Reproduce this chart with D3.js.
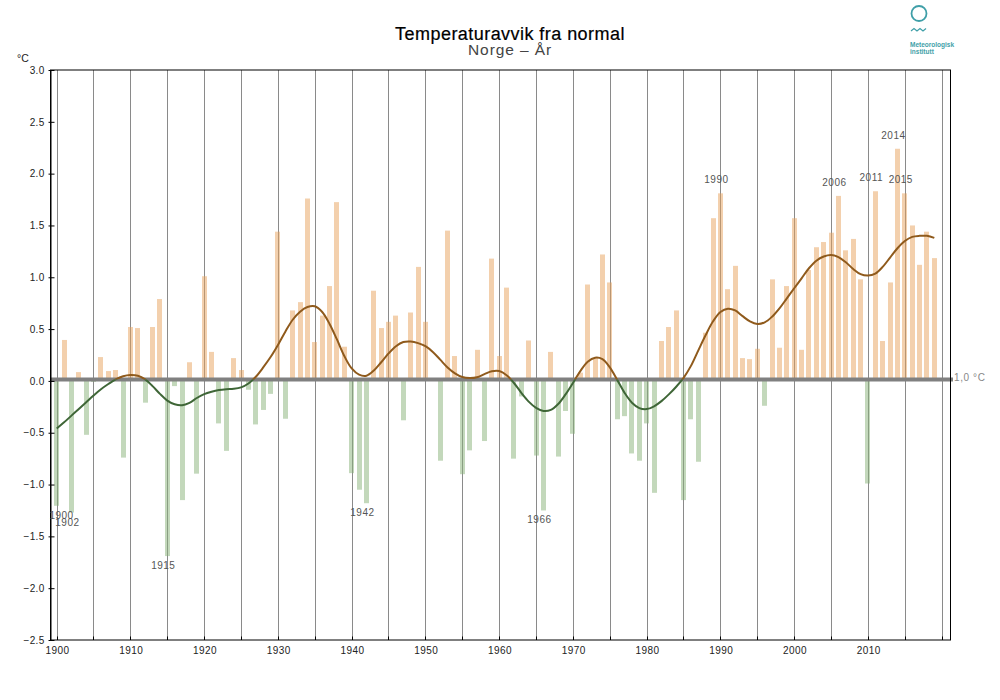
<!DOCTYPE html>
<html><head><meta charset="utf-8">
<script src="https://cdn.jsdelivr.net/npm/d3@7"></script>
<style>
html,body{margin:0;padding:0;background:#fff}
svg{display:block}
text{font-family:"Liberation Sans",sans-serif}
</style></head><body><svg id="c" width="1000" height="700"></svg>
<script>
const firstYear = 1900;
const annualValues = [
-1.205,0.395,-1.27,0.085,-0.52,-0.01,0.23,0.095,0.105,-0.74,
0.52,0.51,-0.21,0.52,0.79,-1.69,-0.05,-1.15,0.18,-0.895,
1.01,0.28,-0.41,-0.675,0.22,0.105,-0.085,-0.42,-0.28,-0.125,
1.44,-0.365,0.68,0.76,1.76,0.375,0.63,0.915,1.725,0.33,
-0.89,-1.05,-1.18,0.87,0.51,0.57,0.63,-0.38,0.66,1.10,
0.57,0.0,-0.77,1.45,0.24,-0.90,-0.67,0.30,-0.58,1.18,
0.24,0.90,-0.75,-0.15,0.39,-0.72,-1.25,0.28,-0.73,-0.29,
-0.51,0.08,0.93,0.22,1.22,0.95,-0.37,-0.34,-0.70,-0.77,
-0.41,-1.08,0.385,0.52,0.68,-1.15,-0.37,-0.78,0.465,1.57,
1.81,0.885,1.11,0.22,0.21,0.31,-0.24,0.98,0.32,0.915,
1.57,0.30,1.07,1.29,1.34,1.43,1.785,1.26,1.37,0.98,
-0.99,1.83,0.385,0.95,2.24,1.81,1.50,1.12,1.44,1.185];
const smoothValues = [
-0.46,-0.40,-0.335,-0.27,-0.205,-0.14,-0.08,-0.03,0.015,0.045,
0.057,0.05,0.015,-0.05,-0.125,-0.19,-0.226,-0.235,-0.212,-0.165,
-0.127,-0.104,-0.088,-0.08,-0.076,-0.062,-0.025,0.04,0.13,0.23,
0.347,0.475,0.59,0.668,0.713,0.72,0.665,0.55,0.40,0.24,
0.12,0.06,0.05,0.10,0.18,0.265,0.335,0.375,0.38,0.365,
0.335,0.28,0.205,0.13,0.073,0.037,0.027,0.035,0.065,0.093,
0.095,0.055,-0.02,-0.115,-0.20,-0.26,-0.29,-0.28,-0.223,-0.13,
-0.02,0.095,0.185,0.224,0.21,0.13,0.01,-0.115,-0.21,-0.262,
-0.272,-0.245,-0.195,-0.13,-0.056,0.03,0.145,0.295,0.443,0.575,
0.665,0.697,0.68,0.625,0.575,0.55,0.565,0.62,0.70,0.797,
0.894,0.99,1.087,1.16,1.20,1.215,1.195,1.145,1.08,1.03,
1.016,1.035,1.10,1.19,1.28,1.35,1.39,1.40,1.40,1.38];
const markedYears = [1900,1902,1915,1942,1966,1990,2006,2011,2014,2015];
const yTicks = [3,2.5,2,1.5,1,0.5,0,-0.5,-1,-1.5,-2,-2.5];
const xGridYears = d3.range(1900,2021,5);
const xLabelYears = d3.range(1900,2011,10);
const years = annualValues.map((_,i)=>firstYear+i);
const titleText = "Temperaturavvik fra normal";
const subtitleText = "Norge – År";
const unitText = "°C";
const normalText = "1,0 °C";

const L=50.5,R=950.5,T=70,B=640;
const x=d3.scaleLinear().domain([1900,2020]).range([57,942]);
const y=d3.scaleLinear().domain([-2.5,3]).range([B,T]);
const cx=yr=>x(yr)-0.3;
const gridX=yr=>Math.floor(x(yr))+0.5;
const svg=d3.select("#c");

// grid
svg.append("g").selectAll("line").data(xGridYears).join("line")
 .attr("x1",gridX).attr("x2",gridX).attr("y1",T).attr("y2",B)
 .attr("stroke","#8a8a8a").attr("stroke-width",1);

// bars
svg.append("g").selectAll("rect").data(years).join("rect")
 .attr("x",d=>Math.round(cx(d)-2.5)).attr("width",5)
 .attr("y",(d,i)=>Math.min(y(0),y(annualValues[i])))
 .attr("height",(d,i)=>Math.abs(y(annualValues[i])-y(0)))
 .attr("fill",(d,i)=>annualValues[i]>=0?"#e7a15b":"#87b177")
 .attr("fill-opacity",0.5);

// zero line
svg.append("line").attr("x1",L).attr("x2",953).attr("y1",y(0)-1.5).attr("y2",y(0)-1.5)
 .attr("stroke","#808080").attr("stroke-width",4);

// axes
const tickFont="Liberation Sans";
const gy=svg.append("g").attr("transform",`translate(${L},0)`)
 .call(d3.axisLeft(y).tickValues(yTicks).tickFormat(d3.format(".1f")).tickSize(0).tickPadding(6));
gy.selectAll(".tick line").attr("x1",-2).attr("x2",4).attr("stroke","#000");
gy.select(".domain").attr("stroke","#000");
gy.selectAll("text").attr("font-size",10).attr("fill","#222").attr("font-family",tickFont).attr("letter-spacing",0.3);
const gx=svg.append("g").attr("transform",`translate(0,${B})`)
 .call(d3.axisBottom(x).tickValues(xLabelYears).tickFormat(d3.format("d")).tickSize(0).tickPadding(7));
gx.select(".domain").remove();
gx.selectAll("text").attr("font-size",10).attr("fill","#222").attr("font-family",tickFont).attr("letter-spacing",0.5);
svg.append("g").selectAll("line").data(xGridYears).join("line")
 .attr("x1",gridX).attr("x2",gridX).attr("y1",B-3.5).attr("y2",B).attr("stroke","#000");
svg.append("rect").attr("x",L).attr("y",T).attr("width",R-L).attr("height",B-T)
 .attr("fill","none").attr("stroke","#000").attr("stroke-width",1);

// smooth line
const line=d3.line().x((d,i)=>cx(years[i])).y(d=>y(d)).curve(d3.curveCatmullRom.alpha(0.5));
const defs=svg.append("defs");
defs.append("clipPath").attr("id","pos").append("rect").attr("x",0).attr("y",0).attr("width",1000).attr("height",y(0)-1.5);
defs.append("clipPath").attr("id","neg").append("rect").attr("x",0).attr("y",y(0)-1.5).attr("width",1000).attr("height",700);
svg.append("path").attr("d",line(smoothValues)).attr("fill","none").attr("stroke","#8f5a1c").attr("stroke-width",2).attr("clip-path","url(#pos)");
svg.append("path").attr("d",line(smoothValues)).attr("fill","none").attr("stroke","#3f6637").attr("stroke-width",2).attr("clip-path","url(#neg)");

// extreme year labels
svg.append("g").selectAll("text").data(markedYears).join("text")
 .attr("x",d=>Math.max(61.5,cx(d)-4))
 .attr("y",d=>{const v=annualValues[d-firstYear];return v<0?y(v)+13:y(v)-10;})
 .attr("text-anchor","middle").attr("font-size",10).attr("letter-spacing",0.5).attr("fill","#555").text(d=>d);

svg.append("text").attr("x",954).attr("y",381).attr("font-size",10).attr("letter-spacing",0.6).attr("fill","#888").text(normalText);
svg.append("text").attr("x",17).attr("y",62).attr("font-size",10.5).attr("fill","#222").text(unitText);

// titles
svg.append("text").attr("x",510).attr("y",40).attr("text-anchor","middle").attr("font-size",18).attr("fill","#000").attr("stroke","#000").attr("stroke-width",0.2).attr("letter-spacing",0.45).text(titleText);
svg.append("text").attr("x",510).attr("y",55).attr("text-anchor","middle").attr("font-size",15.5).attr("fill","#444").attr("letter-spacing",0.9).text(subtitleText);

// logo
const teal="#3f9fa8";
svg.append("circle").attr("cx",919).attr("cy",13.5).attr("r",7.5).attr("fill","none").attr("stroke",teal).attr("stroke-width",1.8);
svg.append("path").attr("d","M911 31 l3 -2.5 l3 2.5 l3 -2.5 l3 2.5 l3 -2.5").attr("fill","none").attr("stroke",teal).attr("stroke-width",1.2);
svg.append("text").attr("x",910).attr("y",46.5).attr("font-size",6.5).attr("font-weight","bold").attr("fill",teal).text("Meteorologisk");
svg.append("text").attr("x",910).attr("y",54).attr("font-size",6.5).attr("font-weight","bold").attr("fill",teal).text("institutt");
</script></body></html>
